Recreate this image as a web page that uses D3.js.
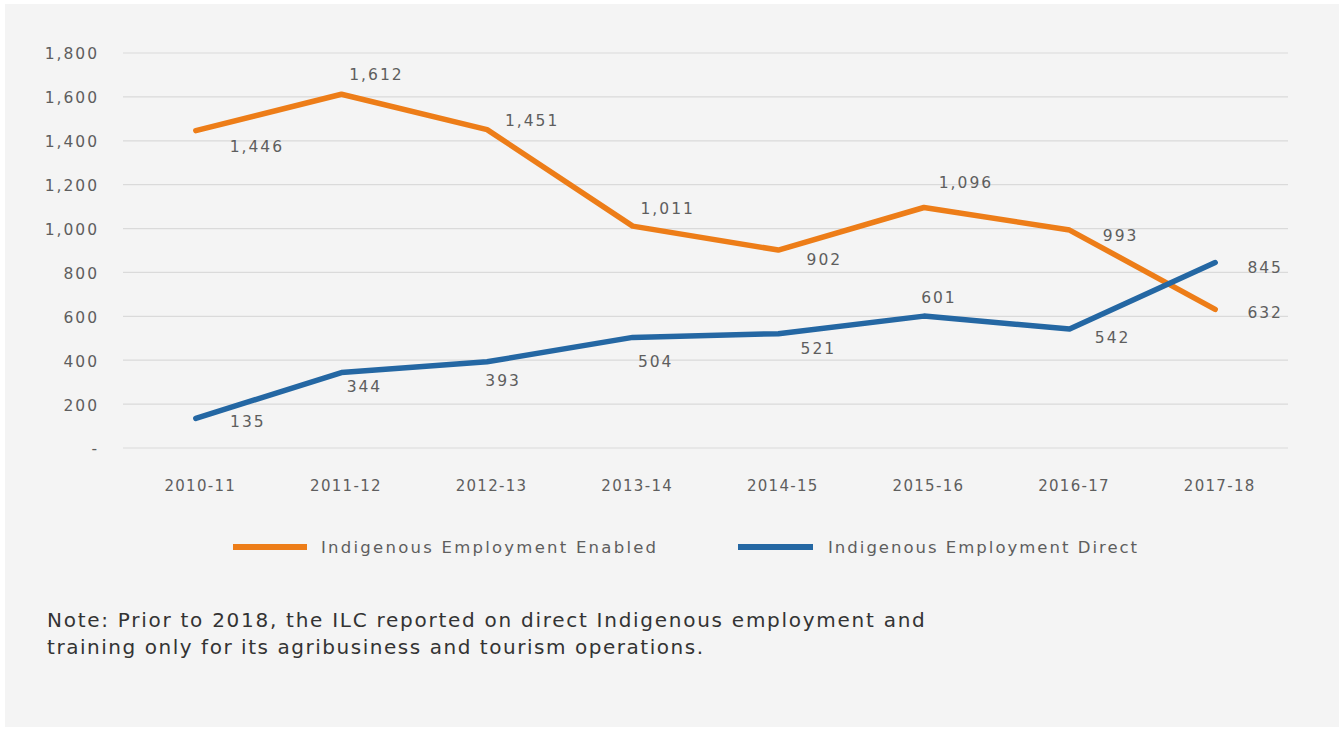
<!DOCTYPE html>
<html>
<head>
<meta charset="utf-8">
<script src="https://cdn.jsdelivr.net/npm/d3@7"></script>
<style>
  html, body { margin: 0; padding: 0; background: #ffffff; }
  svg { display: block; }
  text { font-family: "DejaVu Sans", "Noto Sans", sans-serif; }
</style>
</head>
<body>
<svg id="chart" width="1344" height="729"></svg>
<script>
// Financial years shown on the x axis
const years = ["2010-11", "2011-12", "2012-13", "2013-14", "2014-15", "2015-16", "2016-17", "2017-18"];
// Indigenous employment enabled (orange)
const enabled = [1446, 1612, 1451, 1011, 902, 1096, 993, 632];
// Indigenous employment direct (blue)
const direct = [135, 344, 393, 504, 521, 601, 542, 845];
// Y axis ticks
const yTicks = [0, 200, 400, 600, 800, 1000, 1200, 1400, 1600, 1800];
const seriesNames = ["Indigenous Employment Enabled", "Indigenous Employment Direct"];
const noteLines = [
  "Note: Prior to 2018, the ILC reported on direct Indigenous employment and",
  "training only for its agribusiness and tourism operations."
];

// Label offsets (dx, dy) relative to each point
const enabledOffsets = [[60, 17], [34, -19], [44, -8], [34, -17], [45, 10], [41, -24], [50, 6], [49, 4]];
const directOffsets = [[51, 4], [22, 15], [15, 20], [22, 25], [39, 16], [14, -18], [42, 9], [49, 6]];

const colors = ["#ed7d18", "#2467a3"];
const textGrey = "#5e5e5e";

const svg = d3.select("#chart");
const W = 1344, H = 729;
svg.append("rect").attr("width", W).attr("height", H).attr("fill", "#ffffff");
svg.append("rect").attr("x", 5).attr("y", 4).attr("width", W - 10).attr("height", H - 6)
  .attr("fill", "#f4f4f4");

// Spread a text's letters so it spans the given width
function fitWidth(sel, target) {
  sel.each(function () {
    const n = this.getNumberOfChars();
    const natural = this.getComputedTextLength();
    const ls = (target - natural) / Math.max(1, n - 1);
    d3.select(this).attr("letter-spacing", ls.toFixed(2));
  });
}

const plotLeft = 123, plotRight = 1288, plotTop = 53, plotBottom = 448;

const x = d3.scalePoint().domain(years).range([plotLeft, plotRight]).padding(0.5);
const y = d3.scaleLinear().domain([0, 1800]).range([plotBottom, plotTop]);

// Grid lines
svg.append("g")
  .selectAll("line")
  .data(yTicks)
  .join("line")
  .attr("x1", plotLeft).attr("x2", plotRight)
  .attr("y1", d => y(d)).attr("y2", d => y(d))
  .attr("stroke", "#dadada").attr("stroke-width", 1.2);

// Y axis labels
const yAxis = d3.axisLeft(y).tickValues(yTicks)
  .tickFormat(d => d === 0 ? "-" : d3.format(",")(d))
  .tickSize(0).tickPadding(0);
const yg = svg.append("g").attr("transform", `translate(101,1)`).call(yAxis);
yg.select(".domain").remove();
yg.selectAll("text").attr("fill", textGrey).attr("font-size", 15.5)
  .attr("letter-spacing", 2).attr("dx", -2)
  .attr("font-family", "'DejaVu Sans', sans-serif");

// X axis labels
const xAxis = d3.axisBottom(x).tickSize(0).tickPadding(0);
const xg = svg.append("g").attr("transform", `translate(4,480)`).call(xAxis);
xg.select(".domain").remove();
xg.selectAll("text").attr("fill", textGrey).attr("font-size", 15)
  .attr("letter-spacing", 1.3)
  .attr("font-family", "'DejaVu Sans', sans-serif");

const line = d3.line().x((d, i) => x(years[i])).y(d => y(d));

[enabled, direct].forEach((vals, k) => {
  svg.append("path")
    .datum(vals)
    .attr("d", line)
    .attr("fill", "none")
    .attr("stroke", colors[k])
    .attr("stroke-width", 5.5)
    .attr("stroke-linejoin", "round")
    .attr("stroke-linecap", "round");
});

// Value labels
[[enabled, enabledOffsets], [direct, directOffsets]].forEach(([vals, offs]) => {
  svg.append("g")
    .selectAll("text")
    .data(vals)
    .join("text")
    .attr("x", (d, i) => x(years[i]) + offs[i][0] + 1)
    .attr("y", (d, i) => y(d) + offs[i][1])
    .attr("text-anchor", "middle")
    .attr("dominant-baseline", "middle")
    .attr("font-size", 15.5)
    .attr("letter-spacing", 2)
    .attr("fill", textGrey)
    .text(d => d3.format(",")(d));
});

// Legend
const legendItems = [
  { x: 233, x2: 307, tx: 321, w: 335 },
  { x: 738, x2: 813, tx: 828, w: 309 }
];
legendItems.forEach((l, k) => {
  svg.append("line")
    .attr("x1", l.x).attr("x2", l.x2)
    .attr("y1", 547).attr("y2", 547)
    .attr("stroke", colors[k]).attr("stroke-width", 6);
  svg.append("text")
    .attr("x", l.tx).attr("y", 548)
    .attr("dominant-baseline", "middle")
    .attr("font-size", 16.5).attr("fill", textGrey)
    .text(seriesNames[k])
    .call(fitWidth, l.w);
});

// Note
const noteWidths = [878, 656];
svg.append("g")
  .selectAll("text")
  .data(noteLines)
  .join("text")
  .attr("x", 47)
  .attr("y", (d, i) => 627 + i * 27)
  .attr("font-size", 20)
  .attr("fill", "#333")
  .text(d => d)
  .each(function (d, i) { d3.select(this).call(fitWidth, noteWidths[i]); });
</script>
</body>
</html>
